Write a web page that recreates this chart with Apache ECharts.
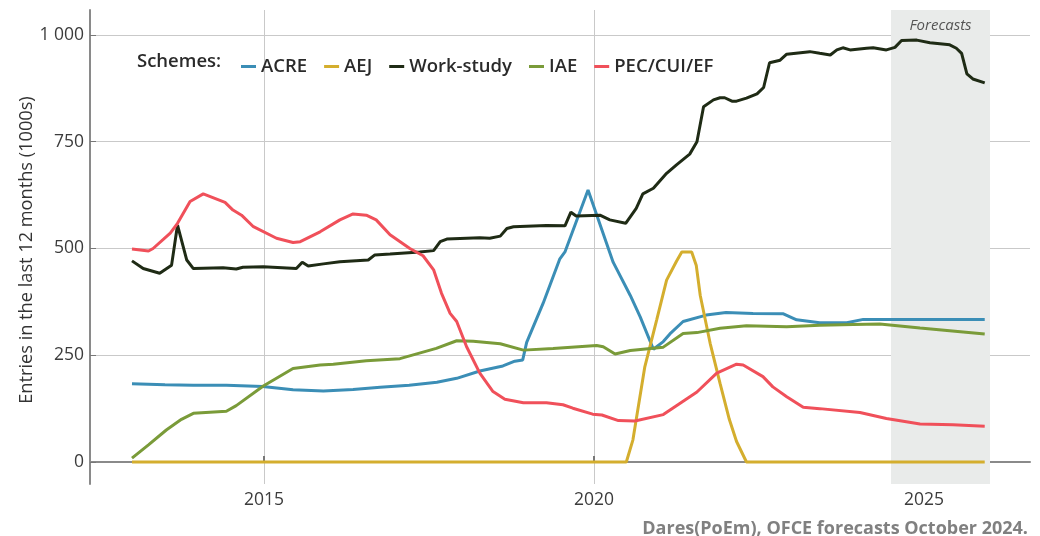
<!DOCTYPE html>
<html><head><meta charset="utf-8">
<script src="https://cdn.jsdelivr.net/npm/echarts@6/dist/echarts.min.js"></script>
<style>html,body{margin:0;padding:0;background:#fff}#c{width:1040px;height:536px}</style>
</head><body><div id="c"></div>
<script>
const seriesNames = ['ACRE','AEJ','Work-study','IAE','PEC/CUI/EF'];
const xTicks = [2015, 2020, 2025];
const yTicks = [0, 250, 500, 750, 1000];
const forecastRange = [2024.5, 2026.0];

const acreYears = [2013.0,2013.5,2013.93,2014.43,2014.98,2015.44,2015.9,2016.35,2016.76,2017.2,2017.62,2017.92,2018.27,2018.62,2018.8,2018.92,2018.98,2019.23,2019.48,2019.56,2019.91,2020.29,2020.55,2020.7,2020.9,2021.05,2021.15,2021.35,2021.7,2022.0,2022.41,2022.87,2023.07,2023.42,2023.83,2024.08,2025.92];
const acreValues = [183,181,180,180,177,169,166,170,175,180,187,196,213,225,236,239,280,372,475,492,637,468,390,340,264,282,300,329,344,350,348,347,333,326,326,334,334];

const aejYears = [2013.0,2020.49,2020.59,2020.77,2020.95,2021.1,2021.25,2021.33,2021.48,2021.55,2021.61,2021.76,2021.91,2022.05,2022.16,2022.31,2025.92];
const aejValues = [0,0,52,223,333,426,470,492,492,460,390,278,184,100,48,0,0];

const workYears = [2013.0,2013.17,2013.42,2013.6,2013.69,2013.83,2013.93,2014.38,2014.58,2014.68,2014.99,2015.49,2015.58,2015.67,2015.9,2016.15,2016.58,2016.68,2016.91,2017.36,2017.57,2017.67,2017.77,2018.27,2018.42,2018.58,2018.68,2018.78,2019.28,2019.56,2019.65,2019.73,2020.09,2020.24,2020.48,2020.64,2020.74,2020.9,2021.1,2021.25,2021.45,2021.56,2021.66,2021.81,2021.91,2021.98,2022.09,2022.16,2022.31,2022.47,2022.57,2022.66,2022.82,2022.92,2023.27,2023.42,2023.58,2023.68,2023.77,2023.88,2024.13,2024.23,2024.43,2024.56,2024.66,2024.89,2025.09,2025.39,2025.49,2025.57,2025.65,2025.74,2025.92];
const workValues = [471,453,442,461,555,473,453,455,452,456,457,453,468,459,464,469,473,485,487,492,495,516,522,525,524,529,547,551,554,553,585,576,578,567,559,594,628,641,676,696,721,750,832,848,853,853,845,845,852,862,877,935,941,955,961,957,953,965,970,965,969,970,965,971,987,988,982,977,969,957,909,897,888];

const iaeYears = [2013.0,2013.25,2013.52,2013.75,2013.93,2014.43,2014.58,2014.99,2015.44,2015.85,2016.05,2016.55,2017.06,2017.61,2017.92,2018.17,2018.58,2018.93,2019.38,2020.04,2020.14,2020.32,2020.55,2021.05,2021.35,2021.56,2021.91,2022.31,2022.92,2023.42,2023.93,2024.33,2024.94,2025.92];
const iaeValues = [9,40,75,100,114,119,132,178,219,227,229,237,242,266,284,283,277,262,266,273,270,253,261,269,301,303,313,319,317,320,322,323,314,300];

const pecYears = [2013.0,2013.25,2013.32,2013.58,2013.69,2013.88,2014.08,2014.41,2014.53,2014.66,2014.84,2015.19,2015.44,2015.55,2015.85,2016.15,2016.35,2016.55,2016.7,2016.91,2017.21,2017.41,2017.57,2017.69,2017.82,2017.92,2018.07,2018.27,2018.47,2018.65,2018.93,2019.28,2019.53,2019.68,2019.98,2020.12,2020.37,2020.62,2021.05,2021.3,2021.56,2021.86,2022.16,2022.26,2022.56,2022.71,2022.92,2023.17,2023.42,2024.03,2024.43,2024.94,2025.44,2025.92];
const pecValues = [499,494,500,536,559,610,628,608,590,578,551,524,514,516,539,567,581,578,567,532,500,483,450,395,348,329,270,208,165,147,139,139,134,126,112,110,97,96,111,137,164,208,229,227,200,176,153,128,125,116,102,89,87,84];

const yAxisTitle = 'Entries in the last 12 months (1000s)';
const colors = ['#3b8eb6','#d4ae2e','#1f2b15','#7a9b39','#f0505a'];

function pairs(xs, ys){ return xs.map((x,i)=>[x, ys[i]]); }
const allData = [pairs(acreYears,acreValues),pairs(aejYears,aejValues),pairs(workYears,workValues),pairs(iaeYears,iaeValues),pairs(pecYears,pecValues)];

const FONT = '"Open Sans", "Noto Sans", sans-serif';
const chart = echarts.init(document.getElementById('c'), null, {renderer:'canvas'});

const series = seriesNames.map((n,i)=>({
  name:n, type:'line', data: allData[i], symbol:'none', showSymbol:false,
  lineStyle:{width:3, color:colors[i]}, itemStyle:{color:colors[i]}, z: 3+i,
  animation:false
}));
series[0].markArea = {
  silent:true,
  itemStyle:{color:'#e9ebea'},
  label:{show:true, position:'insideTop', distance:8, formatter:'Forecasts', fontFamily:FONT, fontStyle:'italic', fontSize:15, color:'#555'},
  data:[[{xAxis:forecastRange[0]},{xAxis:forecastRange[1]}]]
};

chart.setOption({
  animation:false,
  backgroundColor:'#fff',
  color: colors,
  grid:{left:90, right:10, top:10, bottom:52, containLabel:false},
  xAxis:{
    type:'value', min:2012.364, max:2026.606,
    axisLine:{show:true, lineStyle:{color:'#8a8a8a', width:2}},
    axisTick:{show:true, inside:true, length:6, lineStyle:{color:'#777', width:2}, customValues: xTicks},
    axisLabel:{customValues: xTicks, formatter:v=>String(Math.round(v)), fontFamily:FONT, fontSize:17.5, color:'#3c3c3c', margin:7},
    splitLine:{show:true, lineStyle:{color:'#c9c9c9', width:1}}
  },
  yAxis:{
    type:'value', min:-51.5, max:1058.5,
    axisLine:{show:true, lineStyle:{color:'#8a8a8a', width:2}},
    axisTick:{show:true, inside:true, length:6, lineStyle:{color:'#777', width:1}, customValues: yTicks},
    axisLabel:{customValues: yTicks, formatter:v=> v>=1000 ? (Math.floor(v/1000)+' '+String(v%1000).padStart(3,'0')) : String(v), fontFamily:FONT, fontSize:17.5, color:'#3c3c3c', margin:6},
    splitLine:{show:true, lineStyle:{color:'#c9c9c9', width:1}}
  },
  legend:{
    left:236, top:52, icon:'rect', itemWidth:15, itemHeight:3, itemGap:17,
    textStyle:{fontFamily:FONT, fontSize:18.5, fontWeight:600, color:'#2a2a2a'},
    data: seriesNames
  },
  graphic:[
    {type:'text', x:27, y:250, rotation:Math.PI/2, style:{text:yAxisTitle, font:'18.2px '+FONT, fill:'#333', align:'center', verticalAlign:'middle'}},
    {type:'text', left:137, top:52, style:{text:'Schemes:', font:'600 18.5px '+FONT, fill:'#2a2a2a'}},
    {type:'text', right:12, top:520, style:{text:'Dares(PoEm), OFCE forecasts October 2024.', font:'bold 18px '+FONT, fill:'#808080'}}
  ],
  series: series
});
</script></body></html>
